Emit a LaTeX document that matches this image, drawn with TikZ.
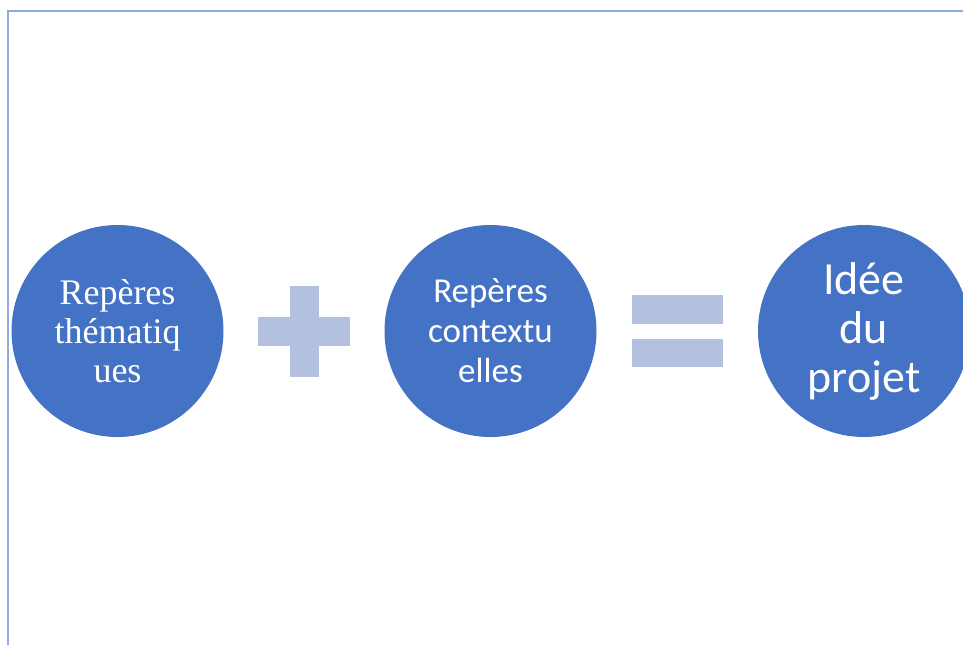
\documentclass[tikz,border=0pt]{standalone}
\usepackage{fontspec}
\setmainfont{Liberation Serif}
\newfontfamily\carlito{Carlito}
\definecolor{circblue}{HTML}{4472C4}
\definecolor{oplight}{HTML}{B4C0E0}
\definecolor{frameblue}{HTML}{8FAADC}
\tikzset{
  bubble/.style={circle, fill=circblue, draw=none, minimum size=212pt, inner sep=0pt,
    text=white, align=center},
  opshape/.style={fill=oplight, draw=none},
  frameline/.style={draw=frameblue, line width=2pt}
}
\begin{document}
\begin{tikzpicture}[x=1pt,y=-1pt]
\useasboundingbox (0,0) rectangle (963,645);
\clip (0,0) rectangle (963,645);
\fill[white] (0,0) rectangle (963,645);
% frame lines
\draw[frameline] (8,645) -- (8,11) -- (963,11);
% circles
\node[bubble, font=\fontsize{36}{39}\selectfont] (a) at (117.5,331) {Repères\\thématiq\\ues};
\node[bubble, font=\carlito\fontsize{35}{40}\selectfont] (b) at (490.5,331) {Repères\\contextu\\elles};
\node[bubble, font=\carlito\fontsize{46}{49}\selectfont] (c) at (864,331) {Idée\\du\\projet};
% plus sign
\fill[opshape] (290,286) rectangle (319,377);
\fill[opshape] (258,317) rectangle (350,346);
% equals sign
\fill[opshape] (632,295) rectangle (723,324);
\fill[opshape] (632,339) rectangle (723,367);
\end{tikzpicture}
\end{document}
